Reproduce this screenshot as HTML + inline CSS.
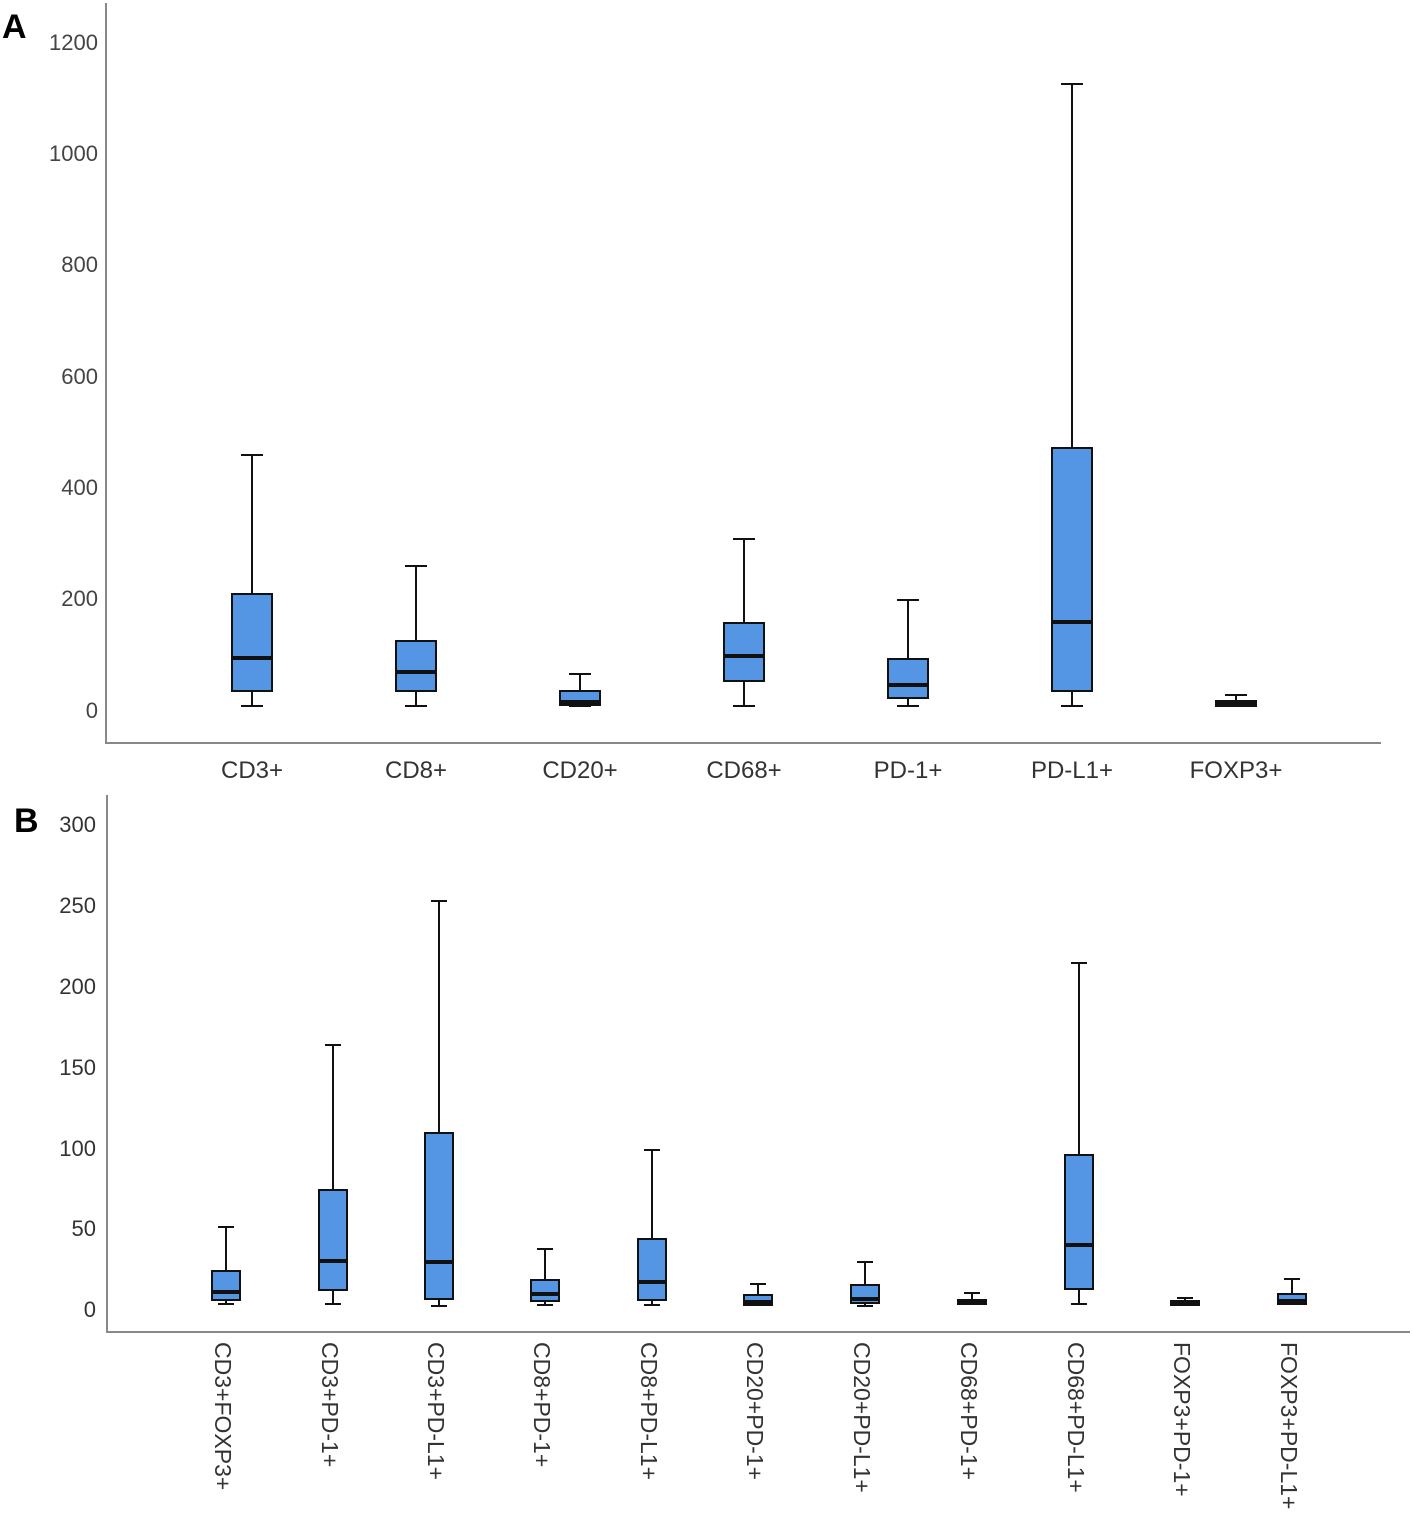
<!DOCTYPE html>
<html><head><style>body{margin:0;background:#fff}svg{display:block}</style></head><body>
<svg width="1413" height="1516" xmlns="http://www.w3.org/2000/svg" font-family="Liberation Sans, sans-serif">
<text x="2" y="38" font-size="34" font-weight="bold">A</text>
<text x="14" y="832" font-size="34" font-weight="bold">B</text>
<g fill="#444" font-size="22" text-anchor="end">
<text x="98" y="50">1200</text><text x="98" y="161">1000</text><text x="98" y="272">800</text><text x="98" y="384">600</text><text x="98" y="495">400</text><text x="98" y="606">200</text><text x="98" y="718">0</text>
</g>
<g fill="#333" font-size="22" text-anchor="end">
<text x="96" y="832">300</text><text x="96" y="913">250</text><text x="96" y="994">200</text><text x="96" y="1075">150</text><text x="96" y="1156">100</text><text x="96" y="1236">50</text><text x="96" y="1317">0</text>
</g>
<g stroke="#888" stroke-width="2" fill="none">
<polyline points="106,3 106,743 1381,743"/>
<polyline points="107,795 107,1332 1410,1332"/>
</g>
<g fill="#333" font-size="24" text-anchor="middle">
<text x="252" y="778">CD3+</text><text x="416" y="778">CD8+</text><text x="580" y="778">CD20+</text><text x="744" y="778">CD68+</text><text x="908" y="778">PD-1+</text><text x="1072" y="778">PD-L1+</text><text x="1236" y="778">FOXP3+</text>
</g>
<g fill="#333" font-size="23">
<text transform="translate(215,1342) rotate(90)">CD3+FOXP3+</text>
<text transform="translate(322,1342) rotate(90)">CD3+PD-1+</text>
<text transform="translate(428,1342) rotate(90)">CD3+PD-L1+</text>
<text transform="translate(534,1342) rotate(90)">CD8+PD-1+</text>
<text transform="translate(641,1342) rotate(90)">CD8+PD-L1+</text>
<text transform="translate(747,1342) rotate(90)">CD20+PD-1+</text>
<text transform="translate(854,1342) rotate(90)">CD20+PD-L1+</text>
<text transform="translate(961,1342) rotate(90)">CD68+PD-1+</text>
<text transform="translate(1068,1342) rotate(90)">CD68+PD-L1+</text>
<text transform="translate(1174,1342) rotate(90)">FOXP3+PD-1+</text>
<text transform="translate(1281,1342) rotate(90)">FOXP3+PD-L1+</text>
</g>
<g stroke="#111" stroke-width="2" fill="#5596e4">
<path d="M252 455V594M241 455H263M252 691V706M241 706H263"/><rect x="232" y="594" width="40" height="97"/><path d="M232 658H272" stroke-width="4"/>
<path d="M416 566V641M405 566H427M416 691V706M405 706H427"/><rect x="396" y="641" width="40" height="50"/><path d="M396 672H436" stroke-width="4"/>
<path d="M580 674V691M569 674H591"/><rect x="560" y="691" width="40" height="14"/><path d="M569 706H591"/><path d="M560 702H600" stroke-width="4"/>
<path d="M744 539V623M733 539H755M744 681V706M733 706H755"/><rect x="724" y="623" width="40" height="58"/><path d="M724 656H764" stroke-width="4"/>
<path d="M908 600V659M897 600H919M908 698V706M897 706H919"/><rect x="888" y="659" width="40" height="39"/><path d="M888 685H928" stroke-width="4"/>
<path d="M1072 84V448M1061 84H1083M1072 691V706M1061 706H1083"/><rect x="1052" y="448" width="40" height="243"/><path d="M1052 622H1092" stroke-width="4"/>
<path d="M1236 695V701M1225 695H1247"/><rect x="1216" y="701" width="40" height="5"/><path d="M1216 704H1256" stroke-width="4"/>
<path d="M226 1227V1271M218 1227H234M226 1300V1304M218 1304H234"/><rect x="212" y="1271" width="28" height="29"/><path d="M212 1292H240" stroke-width="4"/>
<path d="M333 1045V1190M325 1045H341M333 1290V1304M325 1304H341"/><rect x="319" y="1190" width="28" height="100"/><path d="M319 1261H347" stroke-width="4"/>
<path d="M439 901V1133M431 901H447M439 1299V1306M431 1306H447"/><rect x="425" y="1133" width="28" height="166"/><path d="M425 1262H453" stroke-width="4"/>
<path d="M545 1249V1280M537 1249H553M545 1301V1305M537 1305H553"/><rect x="531" y="1280" width="28" height="21"/><path d="M531 1294H559" stroke-width="4"/>
<path d="M652 1150V1239M644 1150H660M652 1300V1305M644 1305H660"/><rect x="638" y="1239" width="28" height="61"/><path d="M638 1282H666" stroke-width="4"/>
<path d="M758 1284V1295M750 1284H766"/><rect x="744" y="1295" width="28" height="10"/><path d="M744 1302H772" stroke-width="4"/>
<path d="M865 1262V1285M857 1262H873M865 1303V1306M857 1306H873"/><rect x="851" y="1285" width="28" height="18"/><path d="M851 1299H879" stroke-width="4"/>
<path d="M972 1293V1300M964 1293H980"/><rect x="958" y="1300" width="28" height="4"/><path d="M958 1302H986" stroke-width="4"/>
<path d="M1079 963V1155M1071 963H1087M1079 1289V1304M1071 1304H1087"/><rect x="1065" y="1155" width="28" height="134"/><path d="M1065 1245H1093" stroke-width="4"/>
<path d="M1185 1298V1301M1177 1298H1193"/><rect x="1171" y="1301" width="28" height="4"/><path d="M1171 1303H1199" stroke-width="4"/>
<path d="M1292 1279V1294M1284 1279H1300"/><rect x="1278" y="1294" width="28" height="10"/><path d="M1278 1301H1306" stroke-width="4"/>
</g>
</svg>
</body></html>
